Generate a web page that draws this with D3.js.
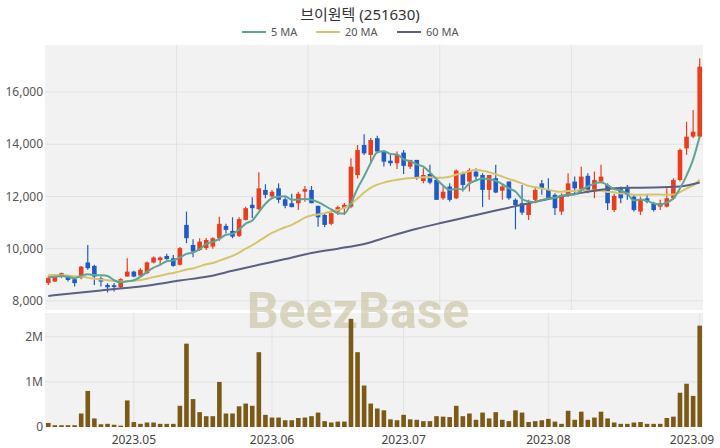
<!DOCTYPE html>
<html><head><meta charset="utf-8">
<script src="https://cdn.jsdelivr.net/npm/d3@7"></script>
<style>
body{margin:0;background:#fff}
svg{display:block}
text{font-family:"Noto Sans","Noto Sans CJK KR",sans-serif}
</style>
</head><body>
<svg id="c" width="720" height="448"></svg>
<script>
// ---- data ----
const title = "브이원텍 (251630)";
const openP = [8680,8740,8930,8970,8830,8870,9470,9340,8870,8610,
 8600,8520,8930,9120,8970,9060,9470,9560,9720,9630,
 9380,10910,10140,9950,10020,10080,10400,10870,10680,10490,
 11100,11680,11510,12250,12000,12310,11890,11740,11740,12180,
 12250,11640,11290,10950,11420,11550,11610,12820,13970,13590,
 14230,13720,13370,13270,13680,13140,13400,12590,12860,12630,
 11930,12380,11930,12890,12570,12950,12820,12250,12700,12220,
 12570,11870,11740,11290,11870,12500,12250,12060,11420,12060,
 12570,12250,12790,12180,12570,12440,11480,12280,12310,11990,
 11420,11930,11740,11610,11610,11930,12630,13840,14290,14290];
const highP = [8930,8960,9080,8990,8870,9340,10140,9380,8930,8680,
 8680,8870,9630,9150,9250,9510,9700,9700,9800,9760,
 10060,11420,10360,10400,10410,10440,11220,10950,11200,11200,
 11600,11970,12930,12470,12250,12500,11970,12100,12180,12400,
 12400,11640,11330,11400,11640,11750,13460,13970,14380,14240,
 14320,13780,13600,13720,13780,13400,13400,13080,13210,12700,
 12440,12500,13030,12950,13080,13080,12890,12820,13210,12440,
 12570,11930,12440,11870,12320,12630,12700,12120,12120,12890,
 12760,13140,12890,12950,13210,12500,12100,12380,12440,12060,
 11990,12060,11800,11870,12310,12700,13840,14860,15310,17290];
const lowP = [8610,8720,8870,8740,8550,8830,9190,8610,8550,8320,
 8360,8490,8930,8900,8930,9020,9440,9380,9570,9310,
 9350,10210,9670,9910,9950,10000,10300,10590,10400,10450,
 11080,11170,11480,11930,11930,11740,11550,11590,11480,11800,
 11740,10840,10830,10900,11290,11290,11550,12690,13590,13290,
 13650,13150,13170,13050,12860,13050,12640,12500,12470,11870,
 11870,11810,11900,12190,12190,12570,11590,11870,12120,11870,
 11870,10740,11290,11100,11740,12060,11870,11290,11290,11990,
 12120,12180,12120,11930,12500,11480,11400,11740,11870,11420,
 11290,11740,11420,11480,11580,11870,12570,13590,14230,14230];
const closeP = [8870,8930,9060,8800,8680,9310,9250,8930,8740,8520,
 8530,8830,9120,8930,9190,9470,9660,9660,9600,9340,
 10020,10400,9890,10270,10330,10400,10950,10720,10460,11130,
 11550,11550,12310,12060,12180,11870,11640,11590,12100,12280,
 11740,11200,10910,11360,11590,11680,13140,13780,13650,14160,
 13720,13330,13270,13590,13170,13400,12700,12820,12530,11870,
 12180,11870,12990,12440,13010,12760,12250,12820,12150,12380,
 11930,11670,11380,11710,12250,12310,11930,11550,12060,12500,
 12310,12760,12250,12630,12760,11740,12020,11930,12060,11480,
 11890,11800,11480,11740,11930,12630,13780,14290,14480,16970];
const volume = [90000,40000,40000,40000,40000,300000,800000,190000,60000,70000,
 50000,30000,590000,110000,70000,100000,100000,70000,70000,70000,
 470000,1850000,620000,330000,240000,240000,1000000,300000,300000,460000,
 520000,470000,1660000,270000,210000,210000,150000,150000,200000,210000,
 240000,320000,130000,100000,120000,120000,2400000,1660000,920000,520000,
 410000,370000,170000,150000,270000,170000,160000,130000,130000,240000,
 230000,220000,470000,240000,300000,160000,320000,190000,330000,160000,
 130000,370000,320000,110000,130000,150000,180000,120000,70000,360000,
 160000,340000,160000,210000,340000,190000,100000,70000,70000,100000,
 110000,70000,70000,70000,200000,230000,760000,960000,690000,2250000];
const ma5 = [8900,8920,8950,8920,8870,8960,9020,8990,8980,8950,
 8790,8710,8750,8790,8920,9110,9270,9380,9520,9550,
 9660,9800,9850,9980,10180,10260,10370,10530,10570,10730,
 10960,11080,11400,11720,11930,11990,12010,11870,11880,11900,
 11870,11780,11650,11500,11360,11350,11740,12310,12770,13280,
 13690,13730,13630,13610,13420,13350,13230,13140,12920,12660,
 12420,12250,12290,12270,12500,12610,12690,12660,12600,12470,
 12310,12190,11900,11810,11790,11860,11920,11950,12020,12070,
 12070,12240,12380,12490,12540,12430,12280,12220,12100,11850,
 11880,11830,11740,11680,11770,11920,12310,12800,13420,14300];
const ma20 = [8990,8990,8980,8970,8940,8920,8890,8850,8820,8790,
 8760,8740,8750,8770,8800,8850,8910,8960,9020,9070,
 9130,9200,9240,9320,9400,9450,9540,9630,9720,9850,
 10000,10130,10290,10450,10600,10720,10820,10910,11040,11190,
 11270,11310,11360,11420,11480,11560,11720,11920,12150,12330,
 12450,12530,12590,12640,12680,12700,12720,12730,12730,12720,
 12720,12750,12840,12890,12960,13020,12980,12930,12850,12760,
 12670,12590,12500,12400,12360,12300,12260,12200,12180,12210,
 12210,12260,12220,12230,12220,12170,12160,12110,12110,12060,
 12060,12070,12070,12070,12060,12070,12170,12300,12420,12640];
// 60 MA read at selected bars: [bar index, value]
const ma60 = [[0,8190],[8,8400],[16,8620],[20,8780],[24,8920],[28,9150],[32,9380],
 [36,9600],[40,9830],[44,10000],[48,10180],[52,10480],[56,10760],[60,11000],[64,11230],
 [68,11460],[72,11680],[76,11900],[80,12090],[84,12260],[88,12330],[92,12340],[96,12380],[99,12530]];
const priceTicks = [8000,10000,12000,14000,16000];
const volTicks = [0,1000000,2000000];
const volTickLabels = ["0","1M","2M"];
const monthTickIdx = [13,34,54,76,99];
const monthTickLabels = ["2023.05","2023.06","2023.07","2023.08","2023.09"];
const legendNames = ["5 MA","20 MA","60 MA"];

// ---- layout ----
const svg = d3.select("#c");
const L = 45, R = 703, pTop = 45, pBot = 310, vTop = 313, vBot = 427;
const UP = "#eb3d1c", DOWN = "#1f5bc8", VOLC = "#7a5a16";
const maColors = ["#5ea596","#d6c46c","#5b5f80"];
const gridC = "#e2e2e2", bgC = "#f2f2f2";

const n = closeP.length;
const x = d3.scaleBand().domain(d3.range(n)).range([L, R]).paddingInner(0.3).paddingOuter(0.15);
const cx = i => x(i) + x.bandwidth() / 2;
const yP = d3.scaleLinear().domain([7650, 17800]).range([pBot, pTop]);
const yV = d3.scaleLinear().domain([0, 2530000]).range([vBot, vTop]);

// backgrounds
svg.append("rect").attr("x", L).attr("y", pTop).attr("width", R - L).attr("height", pBot - pTop).attr("fill", bgC);
svg.append("rect").attr("x", L).attr("y", vTop).attr("width", R - L).attr("height", vBot - vTop).attr("fill", bgC);

// price grid
const pg = svg.append("g");
pg.selectAll("line.h").data(priceTicks).join("line")
  .attr("x1", L).attr("x2", R).attr("y1", d => yP(d)).attr("y2", d => yP(d))
  .attr("stroke", gridC).attr("stroke-width", 1);
pg.selectAll("line.v").data(d3.range(1, 5)).join("line")
  .attr("x1", k => L + k * (R - L) / 5).attr("x2", k => L + k * (R - L) / 5)
  .attr("y1", pTop).attr("y2", pBot).attr("stroke", gridC).attr("stroke-width", 1);
// volume grid
const vg = svg.append("g");
vg.selectAll("line.h").data(volTicks.slice(1)).join("line")
  .attr("x1", L).attr("x2", R).attr("y1", d => yV(d)).attr("y2", d => yV(d))
  .attr("stroke", gridC);
vg.selectAll("line.v").data(monthTickIdx).join("line")
  .attr("x1", d => cx(d)).attr("x2", d => cx(d)).attr("y1", vTop).attr("y2", vBot)
  .attr("stroke", gridC);

// watermark
svg.append("text").attr("x", 358).attr("y", 328).attr("text-anchor", "middle")
  .attr("font-size", 50).attr("font-weight", 700)
  .style("font-family", "Roboto, 'Open Sans', sans-serif")
  .attr("fill", "rgb(200,192,156)").attr("opacity", 0.6).text("BeezBase");

// candles
const idx = d3.range(n);
const cg = svg.append("g");
cg.selectAll("line").data(idx).join("line")
  .attr("x1", cx).attr("x2", cx)
  .attr("y1", i => yP(highP[i])).attr("y2", i => yP(lowP[i]))
  .attr("stroke", i => closeP[i] >= openP[i] ? UP : DOWN).attr("stroke-width", 1.2);
cg.selectAll("rect").data(idx).join("rect")
  .attr("x", i => x(i)).attr("width", x.bandwidth())
  .attr("y", i => yP(Math.max(openP[i], closeP[i])))
  .attr("height", i => Math.max(1, Math.abs(yP(openP[i]) - yP(closeP[i]))))
  .attr("fill", i => closeP[i] >= openP[i] ? UP : DOWN);

// moving averages
const lineIdx = (arr) => d3.line().x((d, i) => cx(i)).y(d => yP(d)).curve(d3.curveMonotoneX)(arr);
svg.append("path").attr("d", lineIdx(ma20)).attr("fill", "none").attr("stroke", maColors[1]).attr("stroke-width", 2);
svg.append("path").attr("d", d3.line().x(d => cx(d[0])).y(d => yP(d[1])).curve(d3.curveMonotoneX)(ma60))
  .attr("fill", "none").attr("stroke", maColors[2]).attr("stroke-width", 2);
svg.append("path").attr("d", lineIdx(ma5)).attr("fill", "none").attr("stroke", maColors[0]).attr("stroke-width", 2);

// volume bars
svg.append("g").selectAll("rect").data(idx).join("rect")
  .attr("x", i => x(i)).attr("width", x.bandwidth())
  .attr("y", i => yV(volume[i])).attr("height", i => vBot - yV(volume[i]))
  .attr("fill", VOLC);

// axis labels
const fmt = d3.format(",");
svg.append("g").selectAll("text").data(priceTicks).join("text")
  .attr("x", 43).attr("y", d => yP(d)).attr("dy", "0.35em").attr("text-anchor", "end")
  .attr("font-size", 12).attr("fill", "#555").text(d => fmt(d));
svg.append("g").selectAll("text").data(volTicks).join("text")
  .attr("x", 43).attr("y", d => yV(d)).attr("dy", "0.35em").attr("text-anchor", "end")
  .attr("font-size", 12).attr("fill", "#555").text((d, i) => volTickLabels[i]);
svg.append("g").selectAll("text").data(monthTickIdx).join("text")
  .attr("x", d => Math.min(cx(d), 692)).attr("y", 440).attr("dy", "0.35em").attr("text-anchor", "middle")
  .attr("font-size", 12).attr("fill", "#444").text((d, i) => monthTickLabels[i]);

// title
svg.append("text").attr("x", 360).attr("y", 20).attr("text-anchor", "middle")
  .attr("font-size", 15).attr("fill", "#333").text(title);

// legend
const legX = [242, 316, 397];
const lg = svg.append("g");
legendNames.forEach((nm, k) => {
  lg.append("line").attr("x1", legX[k]).attr("x2", legX[k] + 24).attr("y1", 32).attr("y2", 32)
    .attr("stroke", maColors[k]).attr("stroke-width", 2);
  lg.append("text").attr("x", legX[k] + 29).attr("y", 32).attr("dy", "0.35em")
    .attr("font-size", 11).attr("fill", "#555").text(nm);
});
</script>
</body></html>
